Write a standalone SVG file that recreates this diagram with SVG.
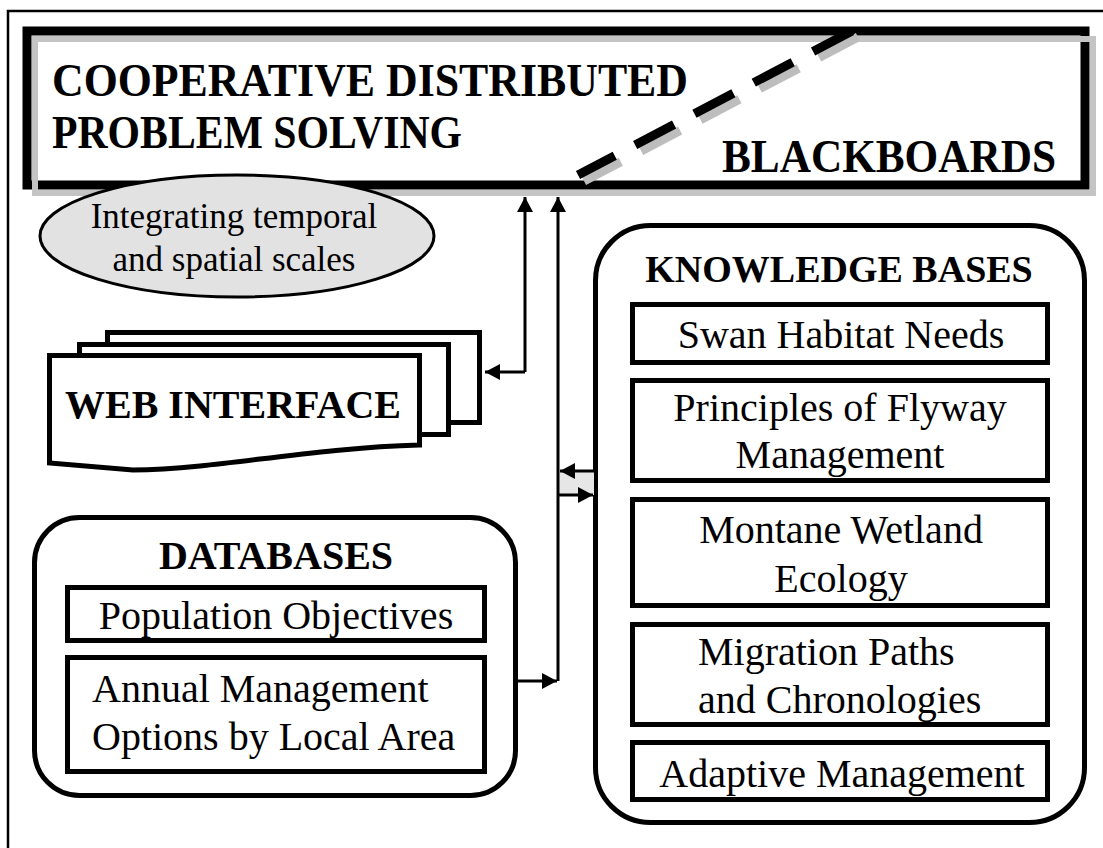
<svg xmlns="http://www.w3.org/2000/svg" width="1103" height="848" viewBox="0 0 1103 848">
<defs>
<style>
.b{font-family:"Liberation Serif","Times New Roman",serif;font-weight:bold;fill:#000}
.r{font-family:"Liberation Serif","Times New Roman",serif;fill:#000;font-size:40px}
.box{fill:#fff;stroke:#000;stroke-width:5}
.ln{fill:none;stroke:#000;stroke-width:3}
</style>
<marker id="ah" viewBox="0 0 15 16" refX="15" refY="8" markerWidth="15" markerHeight="16" markerUnits="userSpaceOnUse" orient="auto"><path d="M0,0 L15,8 L0,16 Z" fill="#000"/></marker>
</defs>
<rect x="0" y="0" width="1103" height="848" fill="#fff"/>
<path d="M8,900 V11 H1110" fill="none" stroke="#000" stroke-width="2.5"/>

<g id="blackboard">
<rect x="27" y="31" width="1058" height="154" fill="#fff" stroke="#000" stroke-width="9"/>
<rect x="35" y="39" width="1058" height="154" fill="none" stroke="#c4c4c4" stroke-width="6"/>
<line x1="858" y1="37" x2="584" y2="181" stroke="#bdbdbd" stroke-width="9" stroke-dasharray="44 23"/>
<line x1="852" y1="31" x2="578" y2="175" stroke="#000" stroke-width="9" stroke-dasharray="44 23"/>
<text class="b" x="52" y="96" font-size="47" textLength="636" lengthAdjust="spacingAndGlyphs">COOPERATIVE DISTRIBUTED</text>
<text class="b" x="52" y="148" font-size="47" textLength="410" lengthAdjust="spacingAndGlyphs">PROBLEM SOLVING</text>
<text class="b" x="722" y="172" font-size="46" textLength="334" lengthAdjust="spacingAndGlyphs">BLACKBOARDS</text>
</g>

<g id="scales">
<ellipse cx="237" cy="236" rx="197" ry="61" fill="#e2e2e2" stroke="#000" stroke-width="3"/>
<text class="r" x="234" y="228" text-anchor="middle" style="font-size:35px">Integrating temporal</text>
<text class="r" x="234" y="271" text-anchor="middle" style="font-size:35px">and spatial scales</text>
</g>

<g id="web">
<rect class="box" x="107.5" y="332.5" width="372" height="90"/>
<rect class="box" x="79.5" y="344.5" width="369" height="90"/>
<path class="box" d="M49.5,355.5 H419.5 V445 C340,447 260,460 200,466 C170,469 150,470 133,470 L49.5,463 Z"/>
<text class="b" x="65" y="418" font-size="40">WEB INTERFACE</text>
</g>

<g id="databases">
<rect x="34.5" y="517.5" width="481" height="278" rx="45" fill="#fff" stroke="#000" stroke-width="5"/>
<text class="b" x="276" y="569" font-size="40" text-anchor="middle">DATABASES</text>
<rect class="box" x="67.5" y="587.5" width="417" height="53"/>
<text class="r" x="276" y="629" text-anchor="middle">Population Objectives</text>
<rect class="box" x="67.5" y="657.5" width="417" height="114"/>
<text class="r" x="92" y="702">Annual Management</text>
<text class="r" x="92" y="750">Options by Local Area</text>
</g>

<g id="knowledge">
<rect x="595.5" y="225.5" width="489" height="597" rx="55" fill="#fff" stroke="#000" stroke-width="5"/>
<text class="b" x="839" y="282" font-size="38" text-anchor="middle">KNOWLEDGE BASES</text>
<rect class="box" x="632.5" y="304.5" width="415" height="58"/>
<text class="r" x="841" y="348" text-anchor="middle">Swan Habitat Needs</text>
<rect class="box" x="632.5" y="380.5" width="415" height="100"/>
<text class="r" x="840" y="421" text-anchor="middle">Principles of Flyway</text>
<text class="r" x="840" y="468" text-anchor="middle">Management</text>
<rect class="box" x="632.5" y="499.5" width="415" height="106"/>
<text class="r" x="841" y="543" text-anchor="middle">Montane Wetland</text>
<text class="r" x="841" y="592" text-anchor="middle">Ecology</text>
<rect class="box" x="632.5" y="624.5" width="415" height="100"/>
<text class="r" x="698" y="665">Migration Paths</text>
<text class="r" x="698" y="713">and Chronologies</text>
<rect class="box" x="632.5" y="742.5" width="415" height="57"/>
<text class="r" x="842" y="787" text-anchor="middle">Adaptive Management</text>
</g>

<g id="connectors">
<rect x="558" y="471" width="36" height="24" fill="#e6e6e6"/>
<path class="ln" d="M525,372 V197" marker-end="url(#ah)"/>
<path class="ln" d="M525,372 H485" marker-end="url(#ah)"/>
<path class="ln" d="M558,681 V197" marker-end="url(#ah)"/>
<path class="ln" d="M518,681 H557" marker-end="url(#ah)"/>
<path class="ln" d="M594,471 H560" marker-end="url(#ah)"/>
<path class="ln" d="M558,495 H593" marker-end="url(#ah)"/>
</g>
</svg>
